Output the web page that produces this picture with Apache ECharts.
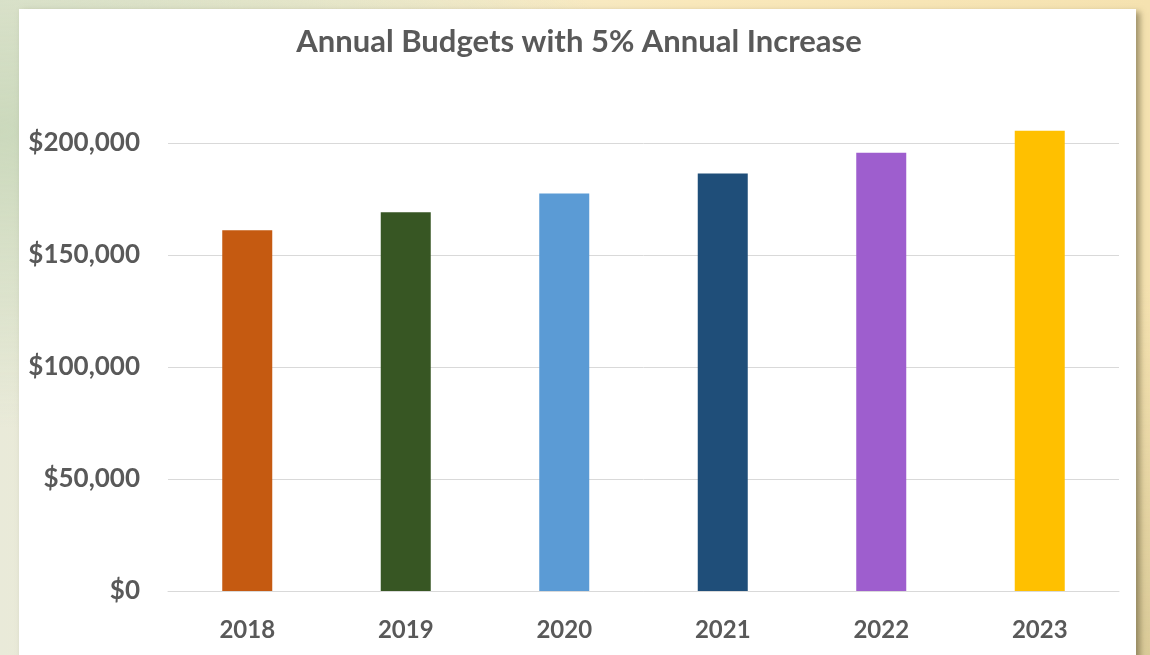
<!DOCTYPE html>
<html>
<head>
<meta charset="utf-8">
<script src="https://cdn.jsdelivr.net/npm/echarts@6/dist/echarts.min.js"></script>
<style>
  html, body { margin: 0; padding: 0; width: 1150px; height: 655px; overflow: hidden; }
  body {
    background:
      radial-gradient(ellipse at 0% 20%, rgba(200,215,185,0.9) 0%, rgba(200,215,185,0) 40%),
      radial-gradient(ellipse at 100% 100%, rgba(215,200,150,0.9) 0%, rgba(215,200,150,0) 40%),
      linear-gradient(90deg, #e9ead9 0%, #f3eccf 30%, #f9e8bb 60%, #f5e2b0 100%);
  }
  #panel {
    position: absolute; left: 19px; top: 9px; width: 1117px; height: 660px;
    background: #ffffff;
    box-shadow: 4px 3px 6px rgba(90,80,50,0.55);
  }
  #chart { position: absolute; left: 0; top: 0; width: 1150px; height: 655px; }
</style>
</head>
<body>
<div id="panel"></div>
<div id="chart"></div>
<script>
const titleText = 'Annual Budgets with 5% Annual Increase';
const categories = ['2018', '2019', '2020', '2021', '2022', '2023'];
const budgets = [161000, 169050, 177500, 186380, 195700, 205480];
const barColors = ['#C55A11', '#375623', '#5B9BD5', '#1F4E79', '#9E5ECE', '#FFC000'];
const yTicks = [0, 50000, 100000, 150000, 200000];

const chart = echarts.init(document.getElementById('chart'), null, { renderer: 'canvas' });
const fontFam = 'Lato, "Open Sans", sans-serif';

chart.setOption({
  backgroundColor: 'transparent',
  animation: false,
  title: {
    text: titleText,
    left: 574, top: 21, textAlign: 'center',
    textStyle: { fontFamily: fontFam, fontSize: 31, fontWeight: 'bold', color: '#595959' }
  },
  grid: { left: 168, right: 31, top: 143, bottom: 64, containLabel: false },
  xAxis: {
    type: 'category',
    data: categories,
    axisLine: { show: true, lineStyle: { color: '#d9d9d9', width: 1 } },
    axisTick: { show: false },
    axisLabel: { margin: 27, fontFamily: fontFam, fontSize: 24, fontWeight: 'bold', color: '#595959' }
  },
  yAxis: {
    type: 'value',
    min: yTicks[0],
    max: yTicks[yTicks.length - 1],
    interval: 50000,
    axisLine: { show: false },
    axisTick: { show: false },
    splitLine: { show: true, lineStyle: { color: '#d9d9d9', width: 1 } },
    axisLabel: {
      margin: 28,
      fontFamily: fontFam, fontSize: 26, fontWeight: 'bold', color: '#595959',
      formatter: v => '$' + v.toLocaleString('en-US')
    }
  },
  series: [{
    type: 'bar',
    clip: false,
    barWidth: 50,
    data: budgets.map((v, i) => ({ value: v, itemStyle: { color: barColors[i] } }))
  }]
});
</script>
</body>
</html>
